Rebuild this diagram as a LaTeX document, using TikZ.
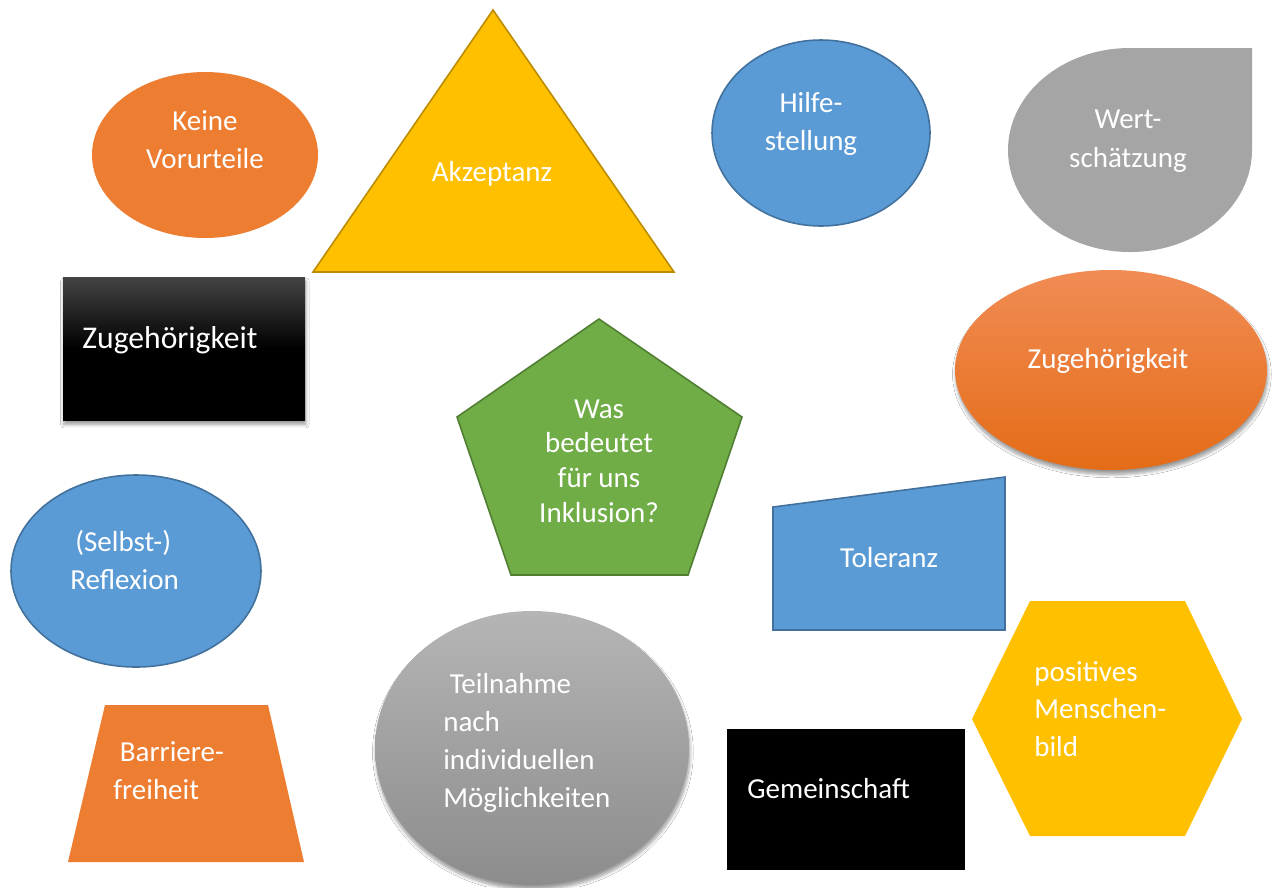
\documentclass[tikz,border=0pt]{standalone}
\usepackage{fontspec}
\setmainfont{Carlito}
\usetikzlibrary{shadows.blur}
\definecolor{cOrange}{HTML}{ED7D31}
\definecolor{cGold}{HTML}{FFC000}
\definecolor{cGoldB}{HTML}{BC8C00}
\definecolor{cBlue}{HTML}{5B9BD5}
\definecolor{cBlueB}{HTML}{41719C}
\definecolor{cGray}{HTML}{A5A5A5}
\definecolor{cGreen}{HTML}{70AD47}
\definecolor{cGreenB}{HTML}{507E32}
\definecolor{cOrTop}{HTML}{F18C55}
\definecolor{cOrBot}{HTML}{E46C17}
\definecolor{cGrTop}{HTML}{B5B5B5}
\definecolor{cGrBot}{HTML}{8C8C8C}
\definecolor{cBlkTop}{HTML}{444444}
\tikzset{
  lbl/.style={text=white, inner sep=0pt, font=\fontsize{16.5}{21.5}\selectfont},
  softshadow/.style={blur shadow={shadow xshift=0.5pt, shadow yshift=-2.5pt, shadow blur steps=6, shadow opacity=40}},
  blueshape/.style={fill=cBlue, draw=cBlueB, line width=0.9pt},
}
\begin{document}
\begin{tikzpicture}[x=0.02cm, y=-0.02cm]
\path[use as bounding box, fill=white] (0,0) rectangle (1273,887);

% Keine Vorurteile
\fill[cOrange] (205,155) ellipse[x radius=113, y radius=83];
\node[lbl, align=center] (keine) at (205,140) {Keine\\Vorurteile};

% Akzeptanz
\filldraw[fill=cGold, draw=cGoldB, line width=0.9pt] (493,10) -- (674,272) -- (313,272) -- cycle;
\node[lbl] (akz) at (492,174) {Akzeptanz};

% Hilfestellung
\path[blueshape] (821,133) ellipse[x radius=109, y radius=93];
\node[lbl, align=center] (hilfe) at (811,124) {Hilfe-\\stellung};

% Wertschaetzung (teardrop)
\fill[cGray] (1252,150) arc[start angle=0, end angle=270, x radius=122, y radius=102] -- (1252,48) -- cycle;
\node[lbl, align=center, font=\fontsize{16.5}{22.5}\selectfont] (wert) at (1128,141) {Wert-\\schätzung};

% Zugehoerigkeit (black box)
\path[softshadow, top color=cBlkTop, bottom color=black, middle color=black] (63,277) rectangle (305,420);
\node[lbl, anchor=west, font=\fontsize{18}{22}\selectfont] (zug1) at (82,340) {Zugehörigkeit};

% Zugehoerigkeit (orange ellipse)
\path[softshadow, top color=cOrTop, bottom color=cOrBot] (1111,370) ellipse[x radius=156, y radius=100];
\node[lbl] (zug2) at (1108,361) {Zugehörigkeit};

% Pentagon
\filldraw[fill=cGreen, draw=cGreenB, line width=0.9pt] (599,319) -- (742,417) -- (688,575) -- (511,575) -- (457,417) -- cycle;
\node[lbl, align=center, font=\fontsize{16.5}{19.8}\selectfont] (was) at (599,461) {Was\\bedeutet\\für uns\\Inklusion?};

% (Selbst-) Reflexion
\path[blueshape] (136,571) ellipse[x radius=125, y radius=96];
\node[lbl, anchor=base west] (selbst) at (75,551) {(Selbst-)};
\node[lbl, anchor=base west] (refl) at (70,589) {Reflexion};

% Toleranz
\path[blueshape] (773,507) -- (1005,477) -- (1005,630) -- (773,630) -- cycle;
\node[lbl] (tol) at (889,558) {Toleranz};

% positives Menschenbild (hexagon)
\fill[cGold] (1030,601) -- (1185,601) -- (1242,719) -- (1185,836) -- (1030,836) -- (972,719) -- cycle;
\node[lbl, align=left, anchor=west] (pos) at (1034,709) {positives\\Menschen-\\bild};

% Teilnahme (gray circle)
\path[softshadow, top color=cGrTop, bottom color=cGrBot] (532,748) ellipse[x radius=157, y radius=137];
\node[lbl, align=left, anchor=west] (teil) at (443,743) {\ Teilnahme\\nach\\individuellen\\Möglichkeiten};

% Gemeinschaft
\fill[black] (727,729) rectangle (965,870);
\node[lbl, anchor=west] (gem) at (747,789) {Gemeinschaft};

% Barrierefreiheit
\fill[cOrange] (105,705) -- (268,705) -- (304,862) -- (68,862) -- cycle;
\node[lbl, align=left, anchor=west] (barr) at (113,771) {\ Barriere-\\freiheit};

\end{tikzpicture}
\end{document}
